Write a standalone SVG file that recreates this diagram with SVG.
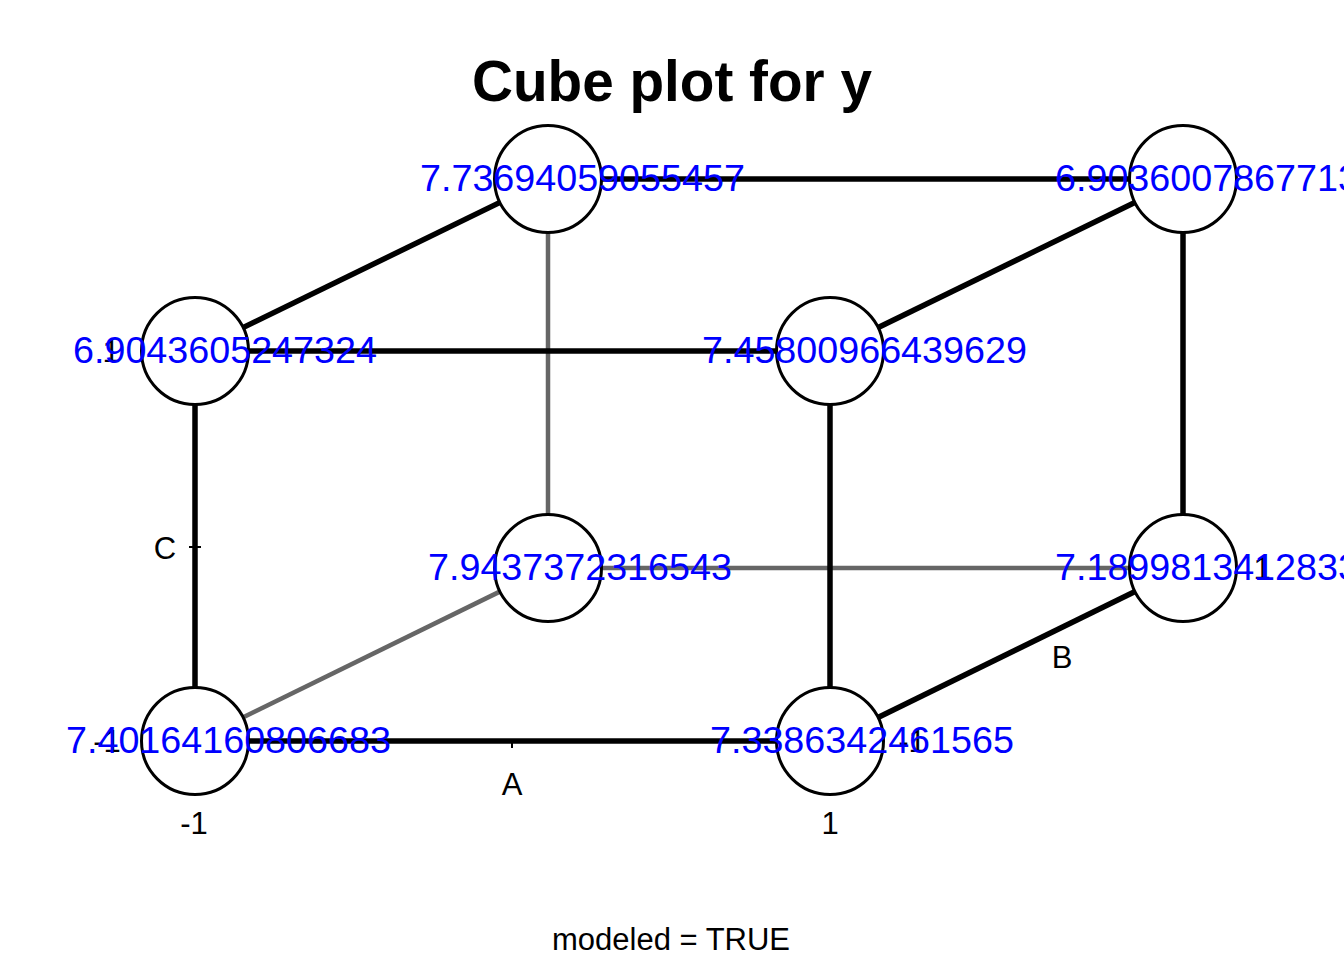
<svg xmlns="http://www.w3.org/2000/svg" width="1344" height="960" viewBox="0 0 1344 960">
<style>
.e{stroke:#000;stroke-width:5.5;fill:none}
.g{stroke:#666;stroke-width:4.5;fill:none}
.n{fill:#fff;stroke:#000;stroke-width:3}
.v{font-family:"Liberation Sans",Arial,sans-serif;font-size:37.7px;fill:#0000ff}
.l{font-family:"Liberation Sans",Arial,sans-serif;font-size:31px;fill:#000;text-anchor:middle}
.t{font-family:"Liberation Sans",Arial,sans-serif;font-size:56.7px;font-weight:bold;fill:#000;text-anchor:middle}
</style>
<rect width="1344" height="960" fill="#fff"/>
<text class="t" x="672" y="101">Cube plot for y</text>
<g id="connectors">
<line class="g" x1="548" y1="179" x2="548" y2="568"/>
<line class="g" x1="548" y1="568" x2="1183" y2="568"/>
<line class="g" x1="195" y1="741" x2="548" y2="568"/>
<line class="e" x1="195" y1="741" x2="830" y2="741"/>
<line class="e" x1="195" y1="741" x2="195" y2="351"/>
<line class="e" x1="195" y1="351" x2="830" y2="351"/>
<line class="e" x1="830" y1="351" x2="830" y2="741"/>
<line class="e" x1="195" y1="351" x2="548" y2="179"/>
<line class="e" x1="830" y1="351" x2="1183" y2="179"/>
<line class="e" x1="548" y1="179" x2="1183" y2="179"/>
<line class="e" x1="1183" y1="179" x2="1183" y2="568"/>
<line class="e" x1="830" y1="741" x2="1183" y2="568"/>
</g>
<g id="axes">
<line x1="512" y1="741" x2="512" y2="748" stroke="#000" stroke-width="2"/>
<line x1="189" y1="547" x2="201" y2="547" stroke="#000" stroke-width="2"/>
<text class="l" x="512" y="795">A</text>
<text class="l" x="194" y="834">-1</text>
<text class="l" x="830" y="834">1</text>
<text class="l" x="165" y="559">C</text>
<text class="l" x="1062" y="668">B</text>
</g>
<g id="node-n1"><circle class="n" cx="195" cy="741" r="53.5"/></g>
<g id="node-n2"><circle class="n" cx="830" cy="741" r="53.5"/></g>
<g id="node-n3"><circle class="n" cx="548" cy="568" r="53.5"/></g>
<g id="node-n4"><circle class="n" cx="1183" cy="568" r="53.5"/></g>
<g id="node-n5"><circle class="n" cx="195" cy="351" r="53.5"/></g>
<g id="node-n6"><circle class="n" cx="830" cy="351" r="53.5"/></g>
<g id="node-n7"><circle class="n" cx="548" cy="179" r="53.5"/></g>
<g id="node-n8"><circle class="n" cx="1183" cy="179" r="53.5"/></g>
<g id="axis-labels">
<text class="l" x="107" y="752">-1</text>
<text class="l" x="111" y="362">1</text>
<text class="l" x="912" y="752">-1</text>
<text class="l" x="1262" y="579">1</text>
</g>
<g id="values">
<text class="v" x="66" y="753">7.40164160806683</text>
<text class="v" x="710" y="753">7.3386342461565</text>
<text class="v" x="428" y="580">7.9437372316543</text>
<text class="v" x="1055" y="580">7.1899813412833</text>
<text class="v" x="73" y="363">6.9043605247324</text>
<text class="v" x="702" y="363">7.45800966439629</text>
<text class="v" x="420" y="191">7.73694059055457</text>
<text class="v" x="1055" y="191">6.9036007867713</text>
</g>
<text class="l" x="671" y="950">modeled = TRUE</text>
</svg>
